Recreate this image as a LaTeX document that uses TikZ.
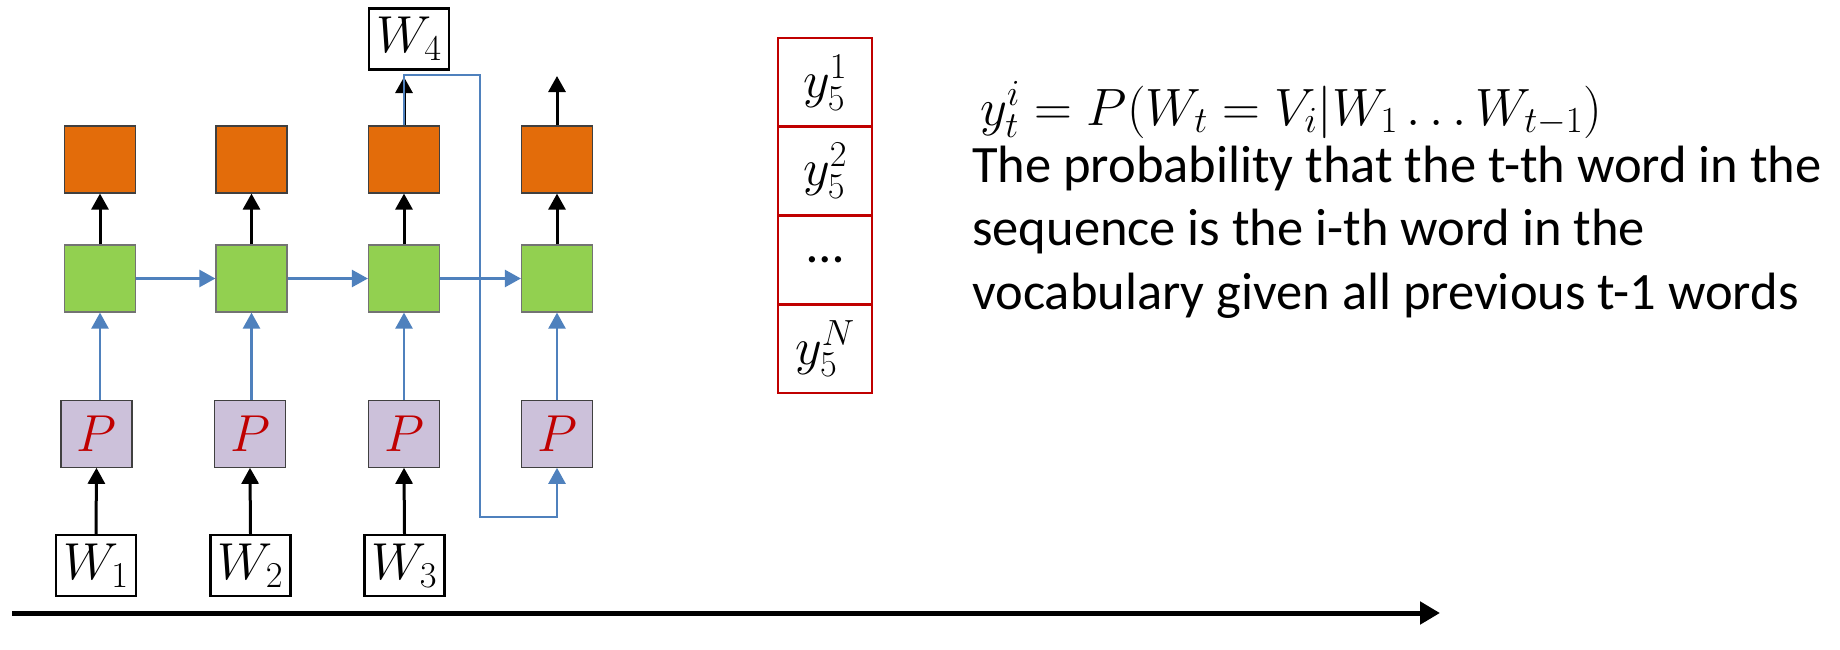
\RequirePackage{fix-cm}
\documentclass[tikz,border=0pt]{standalone}
\usepackage{fontspec}
\setmainfont{Carlito}
\usetikzlibrary{arrows.meta}
\definecolor{orng}{HTML}{E36C0A}
\definecolor{grn}{HTML}{92D050}
\definecolor{prp}{HTML}{CCC1DA}
\definecolor{blu}{HTML}{4F81BD}
\definecolor{rd}{HTML}{C00000}
\begin{document}
\begin{tikzpicture}[x=1pt,y=-1pt,
  cell/.style={minimum width=71pt,minimum height=67pt,inner sep=0pt,draw=black!75,line width=1.2pt},
  outbox/.style={cell,fill=orng},
  hidbox/.style={cell,fill=grn,draw=black!55},
  pbox/.style={cell,fill=prp,font=\fontsize{52}{62}\selectfont,text=rd},
  wbox/.style={draw=black,line width=2.5pt,minimum width=80pt,minimum height=61pt,inner sep=0pt,font=\fontsize{52}{62}\selectfont},
  ybox/.style={draw=rd,line width=2.5pt,minimum width=94pt,minimum height=88.75pt,inner sep=0pt,font=\fontsize{52}{62}\selectfont},
  txt/.style={anchor=base west,inner sep=0pt,font=\fontsize{52.5}{63}\selectfont},
  barrow/.style={draw=black,line width=3pt,-{Triangle[length=16pt,width=17pt]}},
  bluarr/.style={draw=blu,line width=2.5pt,-{Triangle[length=16pt,width=17pt]}}
]
\useasboundingbox (0,0) rectangle (1840,649);

% orange output boxes
\node[outbox] (o1) at (100,159.5) {};
\node[outbox] (o2) at (251.5,159.5) {};
\node[outbox] (o3) at (404,159.5) {};
\node[outbox] (o4) at (557,159.5) {};
% green hidden boxes
\node[hidbox] (g1) at (100,278.5) {};
\node[hidbox] (g2) at (251.5,278.5) {};
\node[hidbox] (g3) at (404,278.5) {};
\node[hidbox] (g4) at (557,278.5) {};
% purple P boxes
\node[pbox] (p1) at (96.5,433.7) {$P$};
\node[pbox] (p2) at (250,433.7) {$P$};
\node[pbox] (p3) at (404,433.7) {$P$};
\node[pbox] (p4) at (557,433.7) {$P$};
% word boxes
\node[wbox] (w1) at (96,565.5) {$W_1$};
\node[wbox] (w2) at (250.5,565.5) {$W_2$};
\node[wbox] (w3) at (404.5,565.5) {$W_3$};
\node[wbox] (w4) at (409,39) {$W_4$};

% free ends
\coordinate (t3) at (404,77);
\coordinate (t4) at (557,76);
\coordinate (lp1) at (480,75);
\coordinate (lp2) at (480,517);

% black arrows
\draw[barrow] (w1.north) -- (p1.south);
\draw[barrow] (w2.north) -- (p2.south);
\draw[barrow] (w3.north) -- (p3.south);
\draw[barrow] (g1.north) -- (o1.south);
\draw[barrow] (g2.north) -- (o2.south);
\draw[barrow] (g3.north) -- (o3.south);
\draw[barrow] (g4.north) -- (o4.south);
\draw[barrow] (o3.north) -- (t3);
\draw[barrow] (o4.north) -- (t4);

% blue arrows
\draw[bluarr] (g1.south |- p1.north) -- (g1.south);
\draw[bluarr] (g2.south |- p2.north) -- (g2.south);
\draw[bluarr] (p3.north) -- (g3.south);
\draw[bluarr] (p4.north) -- (g4.south);
\draw[bluarr] (g1.east) -- (g2.west);
\draw[bluarr] (g2.east) -- (g3.west);
\draw[bluarr] (g3.east) -- (g4.west);
\draw[bluarr] (o3.north) |- (lp1) -- (lp2) -| (p4.south);

% output vector
\node[ybox] (y1) at (825,82.4) {$y_5^1$};
\node[ybox] (y2) at (825,171.1) {$y_5^2$};
\node[ybox] (y3) at (825,259.9) {…};
\node[ybox] (y4) at (825,348.6) {$y_5^N$};

% text
\node[txt] (eq) at (980,125) {$y_t^i = P(W_t = V_i|W_1 \ldots W_{t-1})$};
\node[txt] (l1) at (972,182) {The probability that the t-th word in the};
\node[txt] (l2) at (972,245) {sequence is the i-th word in the};
\node[txt] (l3) at (972,309) {vocabulary given all previous t-1 words};

% time axis
\coordinate (ax0) at (12,613);
\coordinate (ax1) at (1440,613);
\draw[line width=5pt,-{Triangle[length=20pt,width=22pt]}] (ax0) -- (ax1);
\end{tikzpicture}
\end{document}
